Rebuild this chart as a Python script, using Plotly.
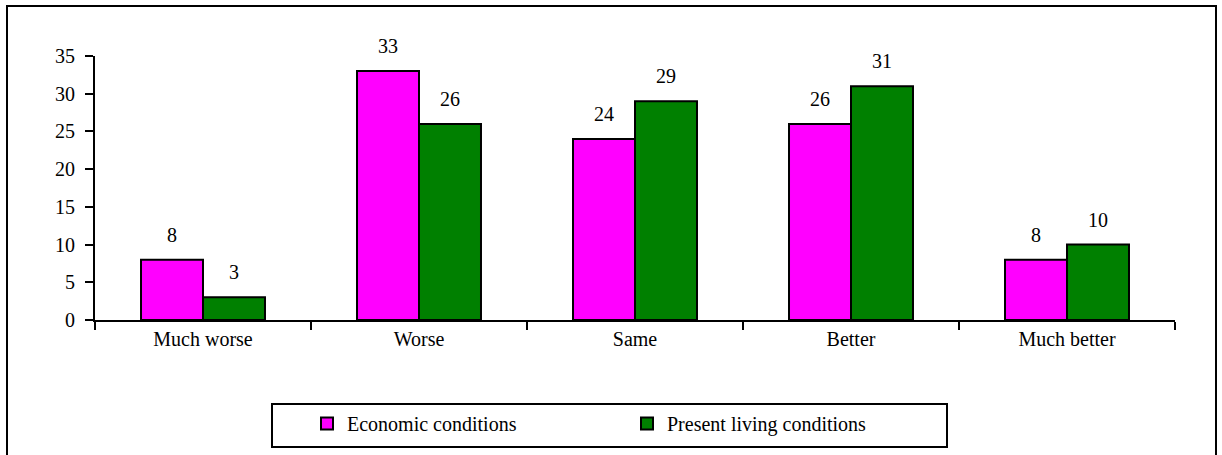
import plotly.graph_objects as go

categories = ["Much worse", "Worse", "Same", "Better", "Much better"]
economic = [8, 33, 24, 26, 8]
living = [3, 26, 29, 31, 10]
series_names = ["Economic conditions", "Present living conditions"]
series_colors = ["#FF00FF", "#008000"]
y_ticks = [0, 5, 10, 15, 20, 25, 30, 35]

W, H = 1222, 455
L, R, T, B = 95, 47, 56, 135
PW, PH = W - L - R, H - T - B

def px_x(px):
    return (px - L) / PW

def px_y(py):
    return (H - B - py) / PH

FONT = "Liberation Serif, Times New Roman, Times, serif"
FS = 20

fig = go.Figure()
for name, vals, col in zip(series_names, [economic, living], series_colors):
    fig.add_trace(go.Bar(
        x=categories, y=vals, name=name,
        marker=dict(color=col, line=dict(color="black", width=2)),
    ))

annotations = []
for i, vals in enumerate([economic, living]):
    shift = -31 if i == 0 else 31
    for c, v in zip(categories, vals):
        annotations.append(dict(
            x=c, y=v, text=str(v), showarrow=False, xref="x", yref="y",
            xshift=shift, yshift=25, yanchor="middle",
            font=dict(family=FONT, size=FS, color="black"),
        ))

shapes = [
    # outer frame
    dict(type="rect", xref="paper", yref="paper",
         x0=px_x(7), x1=px_x(1216), y0=px_y(470), y1=px_y(6),
         line=dict(color="black", width=2), fillcolor="rgba(0,0,0,0)", layer="below"),
    # legend box
    dict(type="rect", xref="paper", yref="paper",
         x0=px_x(272), x1=px_x(947), y0=px_y(447), y1=px_y(404),
         line=dict(color="black", width=2), fillcolor="rgba(0,0,0,0)"),
]

fig.update_layout(
    width=W, height=H,
    margin=dict(l=L, r=R, t=T, b=B, autoexpand=False),
    paper_bgcolor="white", plot_bgcolor="white",
    barmode="group", bargap=0.426, bargroupgap=0,
    font=dict(family=FONT, size=FS, color="black"),
    showlegend=True,
    legend=dict(orientation="h", x=px_x(307), y=px_y(404), xanchor="left", yanchor="top",
                borderwidth=0, bgcolor="rgba(0,0,0,0)", entrywidth=275, entrywidthmode="pixels",
                font=dict(family=FONT, size=FS, color="black"), traceorder="normal"),
    annotations=annotations,
    shapes=shapes,
    xaxis=dict(showline=True, linecolor="black", linewidth=2, ticks="outside",
               tickson="boundaries", ticklen=8, tickwidth=2, tickcolor="black",
               showgrid=False, zeroline=False, tickfont=dict(family=FONT, size=FS)),
    yaxis=dict(range=[0, 35], tickvals=y_ticks, showline=True, linecolor="black", linewidth=2,
               ticks="outside", ticklen=8, tickwidth=2, tickcolor="black", ticklabelstandoff=6,
               showgrid=False, zeroline=False, tickfont=dict(family=FONT, size=FS)),
)

fig.write_html("out.html", config={"displayModeBar": False},
               post_script="document.body.style.margin='0px';")
